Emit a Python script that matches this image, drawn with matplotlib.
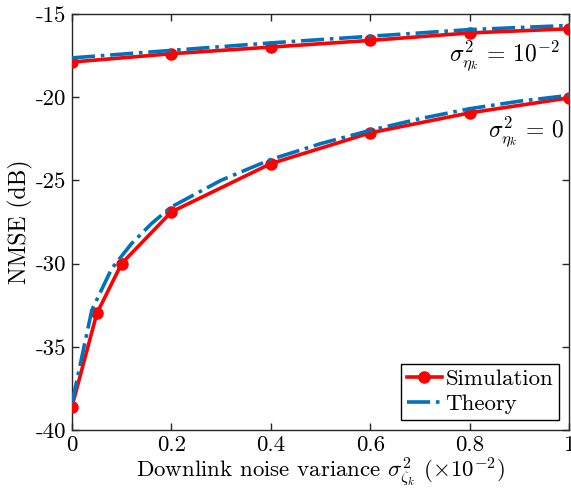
import matplotlib as mpl
import matplotlib.pyplot as plt
import numpy as np

mpl.rcParams['font.family'] = 'serif'
mpl.rcParams['font.serif'] = ['cmr10']
mpl.rcParams['mathtext.fontset'] = 'cm'
mpl.rcParams['axes.formatter.use_mathtext'] = True
mpl.rcParams['axes.unicode_minus'] = False

red = '#ff0000'
blue = '#0072bd'

# sigma_eta^2 = 1e-2
x_hi = [0, 0.2, 0.4, 0.6, 0.8, 1.0]
sim_hi = [-17.9, -17.4, -17.0, -16.6, -16.15, -15.9]
th_hi = [-17.65, -17.2, -16.75, -16.35, -15.95, -15.7]

# sigma_eta^2 = 0
x_lo = [0, 0.05, 0.1, 0.2, 0.4, 0.6, 0.8, 1.0]
sim_lo = [-38.6, -33.0, -30.0, -26.9, -24.0, -22.15, -20.95, -20.05]
x_th = [0, 0.04, 0.08, 0.12, 0.16, 0.2, 0.3, 0.4, 0.5, 0.6, 0.7, 0.8, 0.9, 1.0]
th_lo = [-38.4, -32.8, -30.3, -28.8, -27.6, -26.6, -25.0, -23.75,
         -22.8, -22.0, -21.3, -20.7, -20.25, -19.9]

xticks = [0, 0.2, 0.4, 0.6, 0.8, 1]
xlabels = ['0', '0.2', '0.4', '0.6', '0.8', '1']
yticks = [-40, -35, -30, -25, -20, -15]
ylabels = ['-40', '-35', '-30', '-25', '-20', '-15']

fig = plt.figure(figsize=(5.71, 4.92), dpi=100)
ax = fig.add_axes([0.126, 0.126, 0.871, 0.846])

ax.plot(x_hi, sim_hi, '-o', color=red, lw=2.6, ms=8, label='Simulation', zorder=3)
ax.plot(x_hi, th_hi, '-.', color=blue, lw=2.6, label='Theory', zorder=4)
ax.plot(x_lo, sim_lo, '-o', color=red, lw=2.6, ms=8, zorder=3)
ax.plot(x_th, th_lo, '-.', color=blue, lw=2.6, zorder=4)

ax.text(0.98, -17.5, r'$\sigma^2_{\eta_k}\,=\,10^{-2}$', ha='right', va='center', fontsize=17)
ax.text(0.99, -22.1, r'$\sigma^2_{\eta_k}\,=\,0$', ha='right', va='center', fontsize=17)

ax.set(xlim=(0, 1), ylim=(-40, -15))
ax.set_xticks(xticks)
ax.set_xticklabels(xlabels)
ax.set_yticks(yticks)
ax.set_yticklabels(ylabels)
ax.tick_params(direction='in', top=True, right=True, length=5, width=1,
               labelsize=16.5, colors='#262626', labelcolor='black', pad=4)
for s in ax.spines.values():
    s.set_color('#262626')
    s.set_linewidth(1.0)

ax.set_xlabel(r'Downlink noise variance $\sigma^2_{\zeta_k}$ $(\times 10^{-2})$', fontsize=16.5, labelpad=0)
ax.set_ylabel('NMSE (dB)', fontsize=17, labelpad=2)

leg = ax.legend(loc='lower right', fontsize=16.5, fancybox=False, edgecolor='black',
                framealpha=1, borderpad=0.25, handlelength=1.55, handletextpad=0.15,
                labelspacing=0.2, borderaxespad=0.45)
leg.get_frame().set_linewidth(1.0)

fig.savefig('out.png', dpi=100)
